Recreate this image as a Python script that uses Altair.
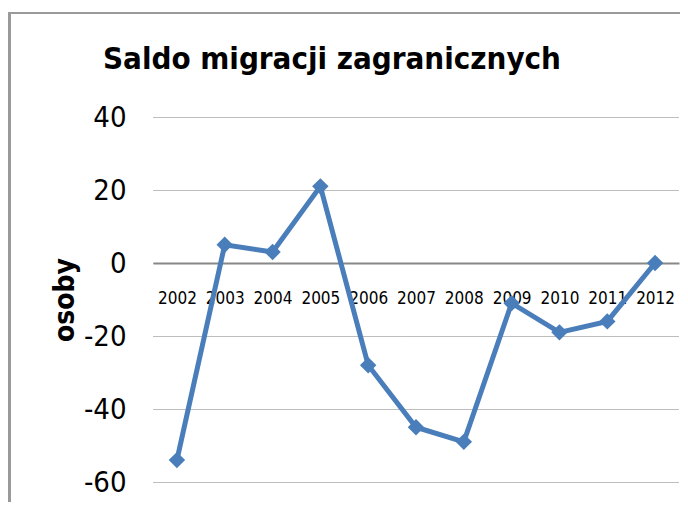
import altair as alt
import pandas as pd

years = ["2002", "2003", "2004", "2005", "2006", "2007", "2008", "2009", "2010", "2011", "2012"]
values = [-54, 5, 3, 21, -28, -45, -49, -11, -19, -16, 0]
y_ticks = [-60, -40, -20, 0, 20, 40]

df = pd.DataFrame({"rok": years, "osoby": values})

FONT = "Liberation Sans Narrow, DejaVu Sans Condensed, sans-serif"
W, H = 526, 365
zero_off = -(H * 60 / 100)  # x axis crosses at 0

base = alt.Chart(df)

line = base.mark_line(color="#4a7ebb", strokeWidth=5, point=alt.OverlayMarkDef(
    shape="diamond", size=270, filled=True, color="#4a7ebb")).encode(
    x=alt.X("rok:N", sort=years, title=None,
            scale=alt.Scale(paddingInner=1, paddingOuter=0.5),
            axis=alt.Axis(orient="bottom", offset=zero_off, labelAngle=0,
                          ticks=False, domain=True, domainColor="#888888",
                          domainWidth=2, labelPadding=27, labelFontSize=17,
                          labelFont=FONT, labelColor="#000000", grid=False)),
    y=alt.Y("osoby:Q", title="osoby",
            scale=alt.Scale(domain=[-60, 40], nice=False),
            axis=alt.Axis(values=y_ticks, ticks=False, domain=False,
                          labelExpr="'' + datum.value",
                          grid=True, gridDash=[1, 1], gridColor="#7a7a7a",
                          gridWidth=1, labelFontSize=29, labelFont=FONT,
                          labelColor="#000000", labelPadding=27,
                          titleFont=FONT, titleFontSize=28, titleFontWeight="bold",
                          titleColor="#000000", titlePadding=4)),
)

border_left = base.mark_rule(color="#9a9a9a", strokeWidth=2).encode(
    x=alt.value(-143.5), y=alt.value(-104), y2=alt.value(H + 40))
border_top = base.mark_rule(color="#9a9a9a", strokeWidth=2).encode(
    x=alt.value(-144.5), x2=alt.value(W + 40), y=alt.value(-104))

chart = alt.layer(border_left, border_top, line).properties(
    width=W, height=H,
    title=alt.TitleParams("Saldo migracji zagranicznych", anchor="start", frame="group",
                          dx=-50, dy=88, baseline="alphabetic", fontSize=31,
                          fontWeight="bold", font=FONT, color="#000000", offset=0),
    autosize=alt.AutoSizeParams(type="none"),
    padding={"left": 145, "top": 109, "right": 1, "bottom": 20},
).configure(background="#ffffff", view=alt.ViewConfig(stroke=None))

chart.save("out.html", embed_options={"renderer": "svg", "actions": False})
